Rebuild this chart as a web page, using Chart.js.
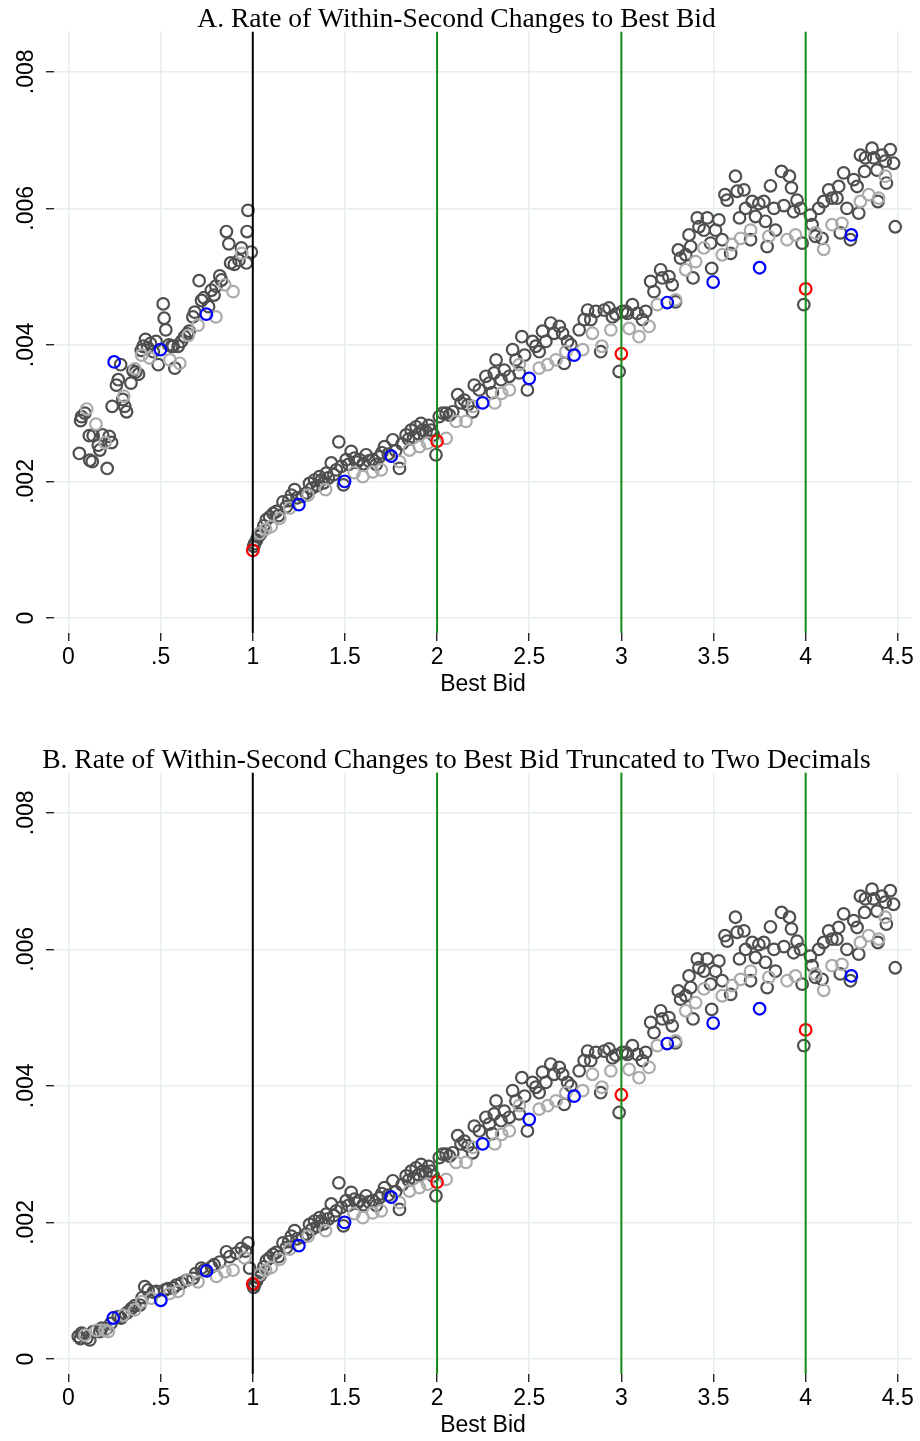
<!DOCTYPE html>
<html>
<head>
<meta charset="utf-8">
<script src="https://cdn.jsdelivr.net/npm/chart.js@4.4.1/dist/chart.umd.min.js"></script>
<style>
  html, body { margin: 0; padding: 0; background: #fff; }
  .panel { position: absolute; left: 0; width: 920px; height: 700px; }
</style>
</head>
<body>
<div class="panel" style="top:0"><canvas id="chartA" width="920" height="700"></canvas></div>
<div class="panel" style="top:741px"><canvas id="chartB" width="920" height="700"></canvas></div>
<script>
// axis ticks
var xTicks = [0, 0.5, 1, 1.5, 2, 2.5, 3, 3.5, 4, 4.5];
var xTickLabels = ['0', '.5', '1', '1.5', '2', '2.5', '3', '3.5', '4', '4.5'];
var yTicks = [0, 0.002, 0.004, 0.006, 0.008];
var yTickLabels = ['0', '.002', '.004', '.006', '.008'];

// reference lines on the x axis
var refLines = [1, 2, 3, 4];
var refColors = ['#000000', '#178a17', '#178a17', '#178a17'];

// best bid below $1, panel A (raw price)
var darkLowA = [[0.059,.00241],[0.066,.00289],[0.071,.00295],[0.089,.00300],[0.113,.00267],[0.116,.00231],
  [0.129,.00229],[0.134,.00267],[0.162,.00253],[0.170,.00246],[0.185,.00268],[0.210,.00219],[0.221,.00266],
  [0.234,.00257],[0.237,.00310],[0.260,.00341],[0.270,.00349],[0.283,.00371],[0.295,.00320],[0.305,.00310],
  [0.315,.00302],[0.339,.00344],[0.350,.00362],[0.365,.00360],[0.380,.00357],[0.395,.00392],[0.405,.00398],
  [0.418,.00408],[0.430,.00396],[0.445,.00402],[0.460,.00390],[0.475,.00405],[0.487,.00371],[0.514,.00460],
  [0.519,.00439],[0.528,.00422],[0.545,.00400],[0.560,.00398],[0.568,.00398],[0.577,.00366],[0.595,.00398],
  [0.613,.00405],[0.630,.00412],[0.645,.00416],[0.655,.00420],[0.675,.00441],[0.685,.00448],[0.709,.00494],
  [0.722,.00465],[0.735,.00469],[0.760,.00456],[0.775,.00480],[0.790,.00473],[0.800,.00486],[0.821,.00501],
  [0.830,.00495],[0.857,.00566],[0.870,.00548],[0.880,.00520],[0.900,.00518],[0.925,.00524],[0.938,.00542],
  [0.965,.00520],[0.969,.00566],[0.974,.00597],[0.992,.00536]];
var lightLowA = [[0.099,.00306],[0.149,.00284],[0.198,.00257],[0.300,.00325],[0.360,.00365],[0.397,.00385],
  [0.440,.00381],[0.550,.00378],[0.604,.00373],[0.650,.00414],[0.703,.00429],[0.800,.00441],[0.848,.00488],
  [0.893,.00478],[0.940,.00534]];
var blueLowA = [[0.248,.00375],[0.499,.00393],[0.748,.00445]];
var redA = [[1,.00099],[2,.00259],[3,.00387],[4,.00482]];

// best bid below $1, panel B (truncated to two decimals)
var darkLowB = [[0.053,.00033],[0.065,.00030],[0.071,.00038],[0.080,.00036],[0.100,.00031],[0.116,.00028],
  [0.134,.00040],[0.170,.00040],[0.180,.00045],[0.205,.00044],[0.230,.00052],[0.270,.00062],[0.285,.00060],
  [0.310,.00066],[0.324,.00069],[0.342,.00074],[0.360,.00078],[0.387,.00079],[0.400,.00090],[0.414,.00106],
  [0.432,.00101],[0.460,.00098],[0.478,.00099],[0.523,.00101],[0.540,.00103],[0.568,.00104],[0.585,.00108],
  [0.613,.00111],[0.640,.00115],[0.676,.00118],[0.690,.00125],[0.721,.00133],[0.735,.00130],[0.776,.00135],
  [0.790,.00138],[0.820,.00142],[0.857,.00157],[0.875,.00150],[0.911,.00155],[0.938,.00162],[0.960,.00158],
  [0.974,.00170],[0.983,.00133]];
var lightLowB = [[0.089,.00035],[0.153,.00042],[0.198,.00042],[0.216,.00040],[0.297,.00064],[0.360,.00072],
  [0.397,.00084],[0.450,.00089],[0.550,.00096],[0.595,.00099],[0.649,.00116],[0.703,.00113],[0.803,.00121],
  [0.848,.00128],[0.893,.00130],[0.956,.00148]];
var blueLowB = [[0.243,.00060],[0.501,.00086],[0.749,.00129]];
var redB = [[1,.00110],[2,.00259],[3,.00387],[4,.00482]];

// best bid of $1 and above (same in both panels)
var darkHigh = [[1.005,.00105],[1.010,.00109],[1.020,.00114],[1.028,.00119],[1.040,.00122],[1.047,.00126],
  [1.060,.00135],[1.074,.00144],[1.092,.00148],[1.110,.00153],[1.128,.00156],[1.140,.00150],[1.164,.00170],
  [1.182,.00163],[1.195,.00172],[1.209,.00180],[1.227,.00188],[1.240,.00176],[1.270,.00178],[1.290,.00183],
  [1.308,.00197],[1.320,.00190],[1.335,.00202],[1.350,.00194],[1.362,.00207],[1.372,.00202],[1.385,.00198],
  [1.399,.00212],[1.410,.00205],[1.426,.00227],[1.440,.00210],[1.453,.00217],[1.467,.00258],[1.480,.00222],
  [1.492,.00195],[1.507,.00232],[1.520,.00225],[1.534,.00244],[1.552,.00234],[1.565,.00228],[1.579,.00232],
  [1.600,.00226],[1.615,.00239],[1.630,.00230],[1.651,.00232],[1.670,.00225],[1.687,.00236],[1.700,.00242],
  [1.715,.00251],[1.735,.00240],[1.760,.00261],[1.775,.00245],[1.796,.00219],[1.810,.00255],[1.832,.00268],
  [1.845,.00262],[1.859,.00275],[1.872,.00265],[1.886,.00280],[1.900,.00270],[1.913,.00285],[1.922,.00275],
  [1.940,.00273],[1.955,.00282],[1.967,.00275],[1.980,.00268],[1.994,.00239],
  [2.012,.00295],[2.030,.00300],[2.049,.00300],[2.067,.00297],[2.085,.00302],[2.112,.00327],[2.130,.00315],
  [2.148,.00319],[2.167,.00312],[2.193,.00302],[2.202,.00341],[2.229,.00334],[2.265,.00354],[2.283,.00344],
  [2.300,.00330],[2.310,.00359],[2.320,.00378],[2.347,.00349],[2.365,.00363],[2.392,.00354],[2.410,.00393],
  [2.428,.00378],[2.446,.00359],[2.460,.00412],[2.475,.00385],[2.490,.00334],[2.518,.00405],[2.536,.00398],
  [2.554,.00390],[2.572,.00420],[2.590,.00405],[2.617,.00432],[2.635,.00417],[2.663,.00427],[2.681,.00417],
  [2.690,.00373],[2.708,.00405],[2.726,.00400],[2.771,.00422],[2.798,.00437],[2.817,.00451],[2.834,.00437],
  [2.861,.00449],[2.888,.00390],[2.907,.00451],[2.933,.00454],[2.952,.00441],[2.970,.00445],[2.988,.00361],
  [3.005,.00449],[3.024,.00449],[3.033,.00446],[3.060,.00459],[3.087,.00446],[3.114,.00437],[3.132,.00449],
  [3.159,.00493],[3.177,.00478],[3.213,.00510],[3.222,.00498],[3.258,.00500],[3.276,.00488],[3.294,.00463],
  [3.309,.00539],[3.321,.00527],[3.349,.00532],[3.367,.00561],[3.376,.00544],[3.389,.00498],[3.412,.00586],
  [3.421,.00573],[3.448,.00568],[3.466,.00586],[3.484,.00549],[3.490,.00512],[3.511,.00568],[3.529,.00583],
  [3.547,.00554],[3.562,.00620],[3.574,.00612],[3.593,.00534],[3.619,.00647],[3.628,.00625],[3.641,.00586],
  [3.665,.00627],[3.674,.00600],[3.701,.00554],[3.710,.00610],[3.728,.00588],[3.746,.00607],[3.773,.00610],
  [3.782,.00581],[3.791,.00544],[3.809,.00633],[3.828,.00600],[3.836,.00568],[3.869,.00654],[3.882,.00604],
  [3.912,.00647],[3.923,.00630],[3.935,.00595],[3.953,.00612],[3.972,.00600],[3.981,.00549],[3.990,.00459],
  [4.026,.00590],[4.035,.00576],[4.053,.00559],[4.071,.00600],[4.089,.00556],[4.098,.00610],[4.125,.00627],
  [4.143,.00615],[4.170,.00615],[4.179,.00632],[4.188,.00564],[4.206,.00652],[4.224,.00600],[4.243,.00554],
  [4.261,.00642],[4.279,.00632],[4.288,.00593],[4.297,.00678],[4.320,.00654],[4.324,.00674],[4.360,.00688],
  [4.369,.00674],[4.387,.00656],[4.392,.00610],[4.414,.00678],[4.432,.00669],[4.438,.00637],[4.459,.00686],
  [4.477,.00666],[4.486,.00573]];
var lightHigh = [[1.037,.00124],[1.070,.00130],[1.100,.00134],[1.146,.00146],[1.200,.00161],[1.300,.00180],
  [1.395,.00188],[1.550,.00213],[1.597,.00207],[1.651,.00214],[1.697,.00217],[1.796,.00229],[1.850,.00246],
  [1.904,.00251],[1.949,.00256],[2.049,.00263],[2.103,.00288],[2.157,.00288],[2.195,.00310],[2.313,.00315],
  [2.350,.00329],[2.392,.00334],[2.446,.00371],[2.554,.00366],[2.600,.00371],[2.645,.00378],[2.699,.00390],
  [2.790,.00393],[2.843,.00417],[2.894,.00398],[2.943,.00422],[3.042,.00424],[3.096,.00412],[3.150,.00427],
  [3.195,.00459],[3.294,.00466],[3.349,.00510],[3.403,.00522],[3.448,.00542],[3.547,.00532],[3.601,.00547],
  [3.647,.00556],[3.701,.00568],[3.800,.00559],[3.899,.00554],[3.945,.00561],[4.053,.00564],[4.098,.00540],
  [4.143,.00576],[4.197,.00578],[4.297,.00610],[4.342,.00620],[4.396,.00615],[4.432,.00647]];
var blueHigh = [[1.250,.00166],[1.498,.00200],[1.751,.00237],[2.247,.00315],[2.500,.00351],[2.744,.00385],
  [3.249,.00462],[3.498,.00492],[3.750,.00513],[4.248,.00561]];

var X_MIN = -0.0786, X_MAX = 4.577;
var Y_MIN = -0.00022, Y_MAX = 0.00859;

var axisFont = { family: 'Liberation Sans, Arial, sans-serif', size: 23 };

function pts(list) {
  return list.map(function(p) { return { x: p[0], y: p[1] }; });
}

// hollow circle markers
function circles(label, data, color) {
  return {
    type: 'scatter',
    label: label,
    data: pts(data),
    pointStyle: 'circle',
    radius: 5.8,
    pointRadius: 5.8,
    borderWidth: 2.2,
    pointBorderWidth: 2.2,
    pointBorderColor: color,
    pointBackgroundColor: 'rgba(0,0,0,0)',
    borderColor: color,
    backgroundColor: 'rgba(0,0,0,0)'
  };
}

function makeChart(id, title, dark, light, blue, red) {
  var lines = refLines.map(function(v, i) {
    return {
      type: 'line',
      label: 'x=' + v,
      data: [{ x: v, y: Y_MIN }, { x: v, y: Y_MAX }],
      borderColor: refColors[i],
      borderWidth: 2,
      pointRadius: 0,
      fill: false
    };
  });
  var datasets = lines.concat([
    circles('Integer', red, '#ff0000'),
    circles('Quarter', blue, '#0000ff'),
    circles('Other', light, '#ababab'),
    circles('All', dark, '#4f4f4f')
  ]);

  return new Chart(document.getElementById(id), {
    type: 'scatter',
    data: { datasets: datasets },
    options: {
      responsive: false,
      animation: false,
      devicePixelRatio: 1,
      layout: { padding: { left: 0, right: 7, top: 0, bottom: 0 } },
      plugins: {
        legend: { display: false },
        tooltip: { enabled: false },
        title: {
          display: true,
          text: title,
          color: '#000',
          font: { family: 'Liberation Serif, Times New Roman, serif', size: 27.5, weight: 'normal', lineHeight: 1 },
          padding: { top: 6, bottom: -2 }
        }
      },
      scales: {
        x: {
          type: 'linear',
          min: X_MIN,
          max: X_MAX,
          afterBuildTicks: function(s) { s.ticks = xTicks.map(function(v) { return { value: v }; }); },
          afterFit: function(s) { s.height = 67; },
          border: { display: false },
          grid: { color: '#e6eef1', lineWidth: 1.5, drawTicks: true, tickLength: 8, tickColor: '#000', tickWidth: 1.2 },
          ticks: {
            color: '#000',
            font: axisFont,
            padding: 3,
            maxRotation: 0,
            autoSkip: false,
            callback: function(v) { var i = xTicks.indexOf(v); return i < 0 ? '' : xTickLabels[i]; }
          },
          title: { display: true, text: 'Best Bid', color: '#000', font: axisFont, padding: { top: 0, bottom: 2 } }
        },
        y: {
          type: 'linear',
          min: Y_MIN,
          max: Y_MAX,
          afterBuildTicks: function(s) { s.ticks = yTicks.map(function(v) { return { value: v }; }); },
          afterFit: function(s) { s.width = 54; },
          border: { display: false },
          grid: { color: '#e6eef1', lineWidth: 1.5, drawTicks: true, tickLength: 8, tickColor: '#000', tickWidth: 1.2 },
          ticks: {
            color: '#000',
            font: axisFont,
            minRotation: 90,
            maxRotation: 90,
            crossAlign: 'center',
            padding: -3,
            autoSkip: false,
            callback: function(v) { var i = yTicks.indexOf(v); return i < 0 ? '' : yTickLabels[i]; }
          }
        }
      }
    }
  });
}

makeChart('chartA', 'A. Rate of Within-Second Changes to Best Bid',
  darkLowA.concat(darkHigh), lightLowA.concat(lightHigh), blueLowA.concat(blueHigh), redA);
makeChart('chartB', 'B. Rate of Within-Second Changes to Best Bid Truncated to Two Decimals',
  darkLowB.concat(darkHigh), lightLowB.concat(lightHigh), blueLowB.concat(blueHigh), redB);
</script>
</body>
</html>
